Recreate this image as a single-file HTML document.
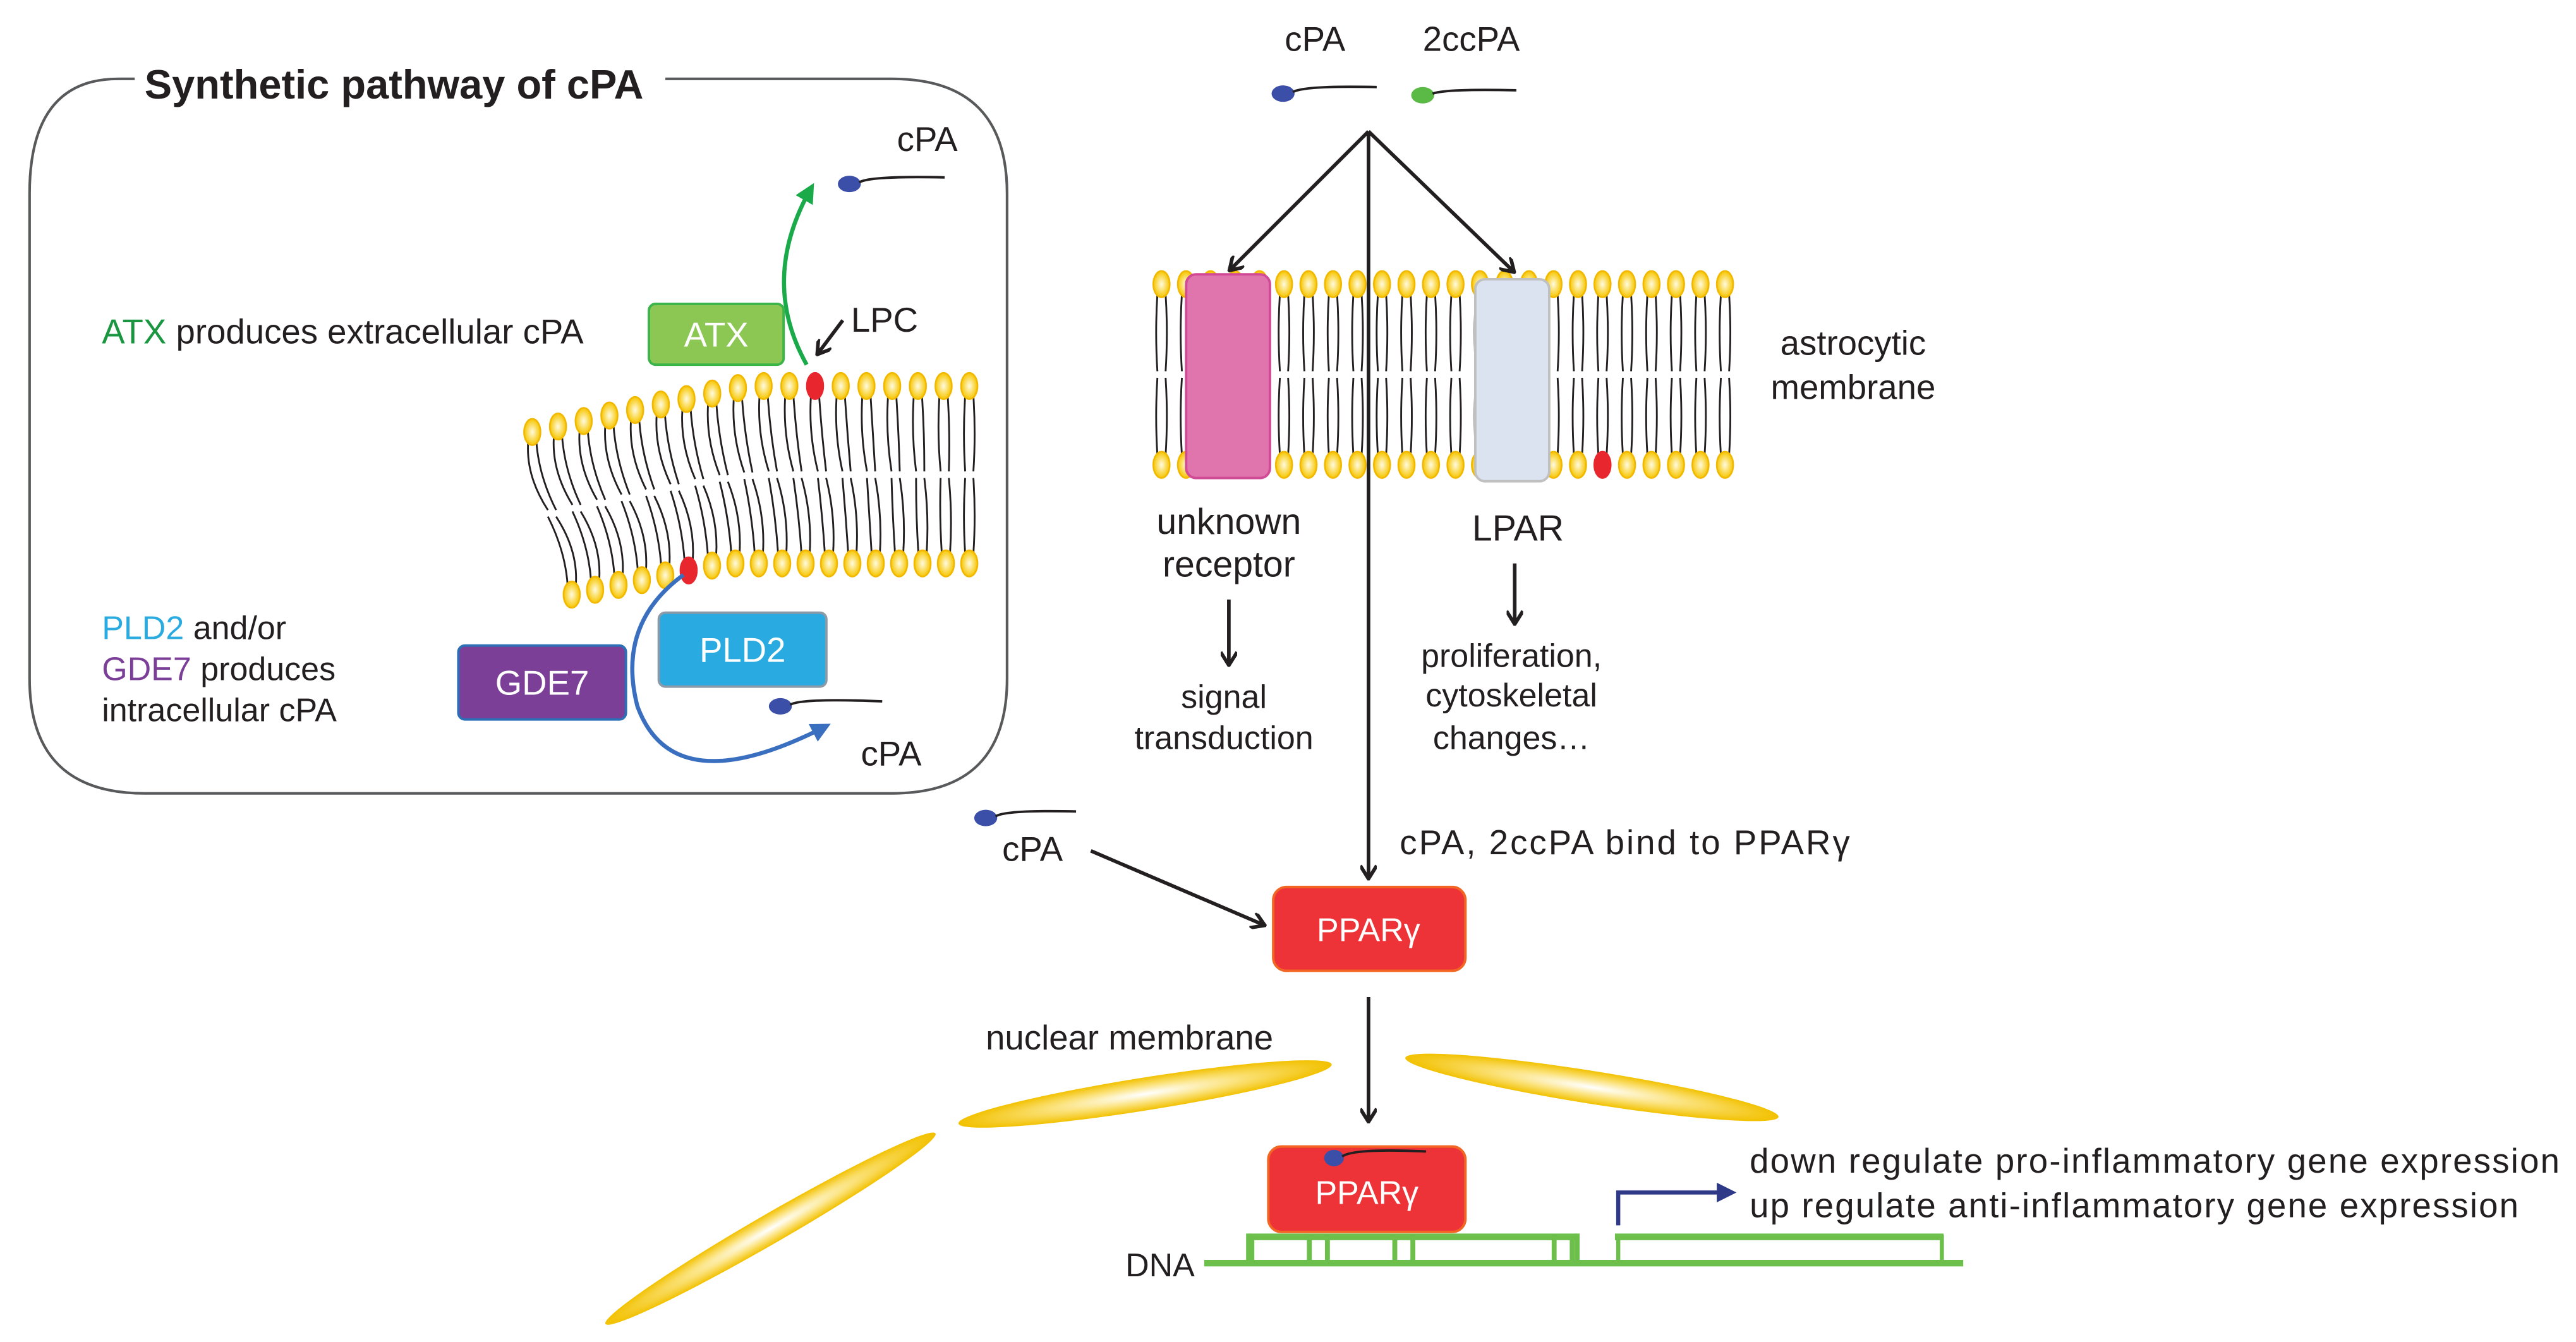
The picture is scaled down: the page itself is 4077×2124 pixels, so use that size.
<!DOCTYPE html>
<html><head><meta charset="utf-8"><style>
html,body{margin:0;padding:0;background:#fff;}
svg{display:block;}
text{font-family:"Liberation Sans",sans-serif;fill:#231f20;}
</style></head><body>
<svg id="s" width="4077" height="2124" viewBox="0 0 1568 817" preserveAspectRatio="none" xmlns="http://www.w3.org/2000/svg">
<defs>
<radialGradient id="hg" cx="50%" cy="50%" r="50%"><stop offset="0" stop-color="#fffbe0"/><stop offset="1" stop-color="#f7c600"/></radialGradient>
<radialGradient id="eg" cx="50%" cy="50%" r="50%"><stop offset="0" stop-color="#ffffff"/><stop offset="0.5" stop-color="#fbe27a"/><stop offset="1" stop-color="#f2c100"/></radialGradient>
<marker id="ak" markerWidth="10" markerHeight="10" refX="8" refY="5" orient="auto" markerUnits="userSpaceOnUse"><path d="M1,0 L9,5 L1,10" fill="none" stroke="#231f20" stroke-width="2.2"/></marker>
<marker id="ag" markerWidth="12" markerHeight="12" refX="9" refY="6" orient="auto" markerUnits="userSpaceOnUse"><path d="M0,0 L12,6 L0,12 z" fill="#1aaa4a"/></marker>
<marker id="ab" markerWidth="12" markerHeight="12" refX="9" refY="6" orient="auto" markerUnits="userSpaceOnUse"><path d="M0,0 L12,6 L0,12 z" fill="#3a6fc0"/></marker>
<marker id="an" markerWidth="12" markerHeight="12" refX="9" refY="6" orient="auto" markerUnits="userSpaceOnUse"><path d="M0,0 L12,6 L0,12 z" fill="#2e3a87"/></marker>
</defs>
<path d="M72,48 L82,48 M405,48 L543,48 Q613,48 613,118 L613,413 Q613,483 543,483 L88,483 Q18,483 18,413 L18,118 Q18,48 72,48" fill="none" stroke="#58595b" stroke-width="1.6"/>
<text x="88" y="60" font-size="25" font-weight="bold">Synthetic pathway of cPA</text>
<g id="mem1"></g>
<text x="546" y="92" font-size="21">cPA</text>
<ellipse cx="517" cy="112" rx="7" ry="5" fill="#3b4fa8"/><path d="M523,111 Q530,107 575,108" fill="none" stroke="#231f20" stroke-width="1.5"/>
<path d="M491,222 Q462,170 494,114" fill="none" stroke="#1aaa4a" stroke-width="2.5" marker-end="url(#ag)"/>
<rect x="395" y="185" width="82" height="37" rx="4" fill="#8cc653" stroke="#3bb44a" stroke-width="1.5"/>
<text x="436" y="211" font-size="21" text-anchor="middle" style="fill:#fff">ATX</text>
<path d="M513,195 L498,215" stroke="#231f20" stroke-width="2.2" marker-end="url(#ak)"/>
<text x="518" y="202" font-size="21">LPC</text>
<text x="62" y="209" font-size="21"><tspan style="fill:#1a9641">ATX</tspan> produces extracellular cPA</text>
<path d="M416,350 Q375,380 388,430 Q410,490 503,442" fill="none" stroke="#3a6fc0" stroke-width="2.5" marker-end="url(#ab)"/>
<rect x="401" y="373" width="102" height="45" rx="4" fill="#29abe2" stroke="#8a9aa8" stroke-width="1.5"/>
<text x="452" y="403" font-size="21" text-anchor="middle" style="fill:#fff">PLD2</text>
<rect x="279" y="393" width="102" height="45" rx="4" fill="#7b3f98" stroke="#2b6fb6" stroke-width="1.5"/>
<text x="330" y="423" font-size="21" text-anchor="middle" style="fill:#fff">GDE7</text>
<ellipse cx="475" cy="430" rx="7" ry="5" fill="#3b4fa8"/><path d="M481,429 Q488,425 537,427" fill="none" stroke="#231f20" stroke-width="1.5"/>
<text x="524" y="466" font-size="21">cPA</text>
<text x="62" y="389" font-size="20"><tspan style="fill:#29abe2">PLD2</tspan> and/or</text>
<text x="62" y="414" font-size="20"><tspan style="fill:#7b3f98">GDE7</tspan> produces</text>
<text x="62" y="439" font-size="20">intracellular cPA</text>
<text x="782" y="31" font-size="21">cPA</text>
<text x="866" y="31" font-size="21">2ccPA</text>
<ellipse cx="781" cy="57" rx="7" ry="5" fill="#3b4fa8"/><path d="M787,56 Q794,52 838,53" fill="none" stroke="#231f20" stroke-width="1.5"/>
<ellipse cx="866" cy="58" rx="7" ry="5" fill="#5bb946"/><path d="M872,57 Q880,54 923,55" fill="none" stroke="#231f20" stroke-width="1.5"/>
<g id="mem2"></g>
<path d="M833,80 L749,164" stroke="#231f20" stroke-width="2.2" marker-end="url(#ak)"/>
<path d="M833,80 L921,165" stroke="#231f20" stroke-width="2.2" marker-end="url(#ak)"/>
<rect x="722" y="167" width="51" height="124" rx="6" fill="#e075ae" stroke="#d04a95" stroke-width="1.5"/>
<rect x="898" y="170" width="45" height="123" rx="6" fill="#dae3ef" stroke="#c0c0c0" stroke-width="1.5"/>
<path d="M833,80 L833,534" stroke="#231f20" stroke-width="2.2" marker-end="url(#ak)"/>
<text x="1128" y="216" font-size="21" text-anchor="middle">astrocytic</text>
<text x="1128" y="243" font-size="21" text-anchor="middle">membrane</text>
<text x="748" y="325" font-size="22" text-anchor="middle">unknown</text>
<text x="748" y="351" font-size="22" text-anchor="middle">receptor</text>
<path d="M748,365 L748,404" stroke="#231f20" stroke-width="2.2" marker-end="url(#ak)"/>
<text x="745" y="431" font-size="20" text-anchor="middle">signal</text>
<text x="745" y="456" font-size="20" text-anchor="middle">transduction</text>
<text x="924" y="329" font-size="22" text-anchor="middle">LPAR</text>
<path d="M922,343 L922,379" stroke="#231f20" stroke-width="2.2" marker-end="url(#ak)"/>
<text x="920" y="406" font-size="20" text-anchor="middle">proliferation,</text>
<text x="920" y="430" font-size="20" text-anchor="middle">cytoskeletal</text>
<text x="920" y="456" font-size="20" text-anchor="middle">changes…</text>
<text x="852" y="520" font-size="21" textLength="274">cPA, 2ccPA bind to PPARγ</text>
<ellipse cx="600" cy="498" rx="7" ry="5" fill="#3b4fa8"/><path d="M606,497 Q612,493 655,494" fill="none" stroke="#231f20" stroke-width="1.5"/>
<text x="610" y="524" font-size="21">cPA</text>
<path d="M664,518 L769,563" stroke="#231f20" stroke-width="2.2" marker-end="url(#ak)"/>
<rect x="775" y="540" width="117" height="51" rx="8" fill="#ee3338" stroke="#f26522" stroke-width="1.5"/>
<text x="833" y="573" font-size="20" text-anchor="middle" style="fill:#fff">PPARγ</text>
<path d="M833,607 L833,682" stroke="#231f20" stroke-width="2.2" marker-end="url(#ak)"/>
<text x="600" y="639" font-size="21">nuclear membrane</text>
<ellipse cx="697" cy="666" rx="115" ry="10" fill="url(#eg)" transform="rotate(-9 697 666)"/>
<ellipse cx="969" cy="662" rx="115" ry="10" fill="url(#eg)" transform="rotate(9 969 662)"/>
<ellipse cx="469" cy="748" rx="116" ry="9" fill="url(#eg)" transform="rotate(-30 469 748)"/>
<g stroke="#6cbf4b" fill="none">
<path d="M733,769 L1195,769" stroke-width="4"/>
<path d="M760,753 L960,753" stroke-width="4"/>
<path d="M762,753 L762,769 M797,753 L797,769 M808,753 L808,769 M849,753 L849,769 M860,753 L860,769 M946,753 L946,769 M957,753 L957,769" stroke-width="3"/>
<path d="M760,751 L760,769 M960,751 L960,769" stroke-width="3"/>
<rect x="985" y="753" width="197" height="16" stroke-width="2.5"/>
<path d="M983,753 L1183,753" stroke-width="4"/>
</g>
<rect x="772" y="698" width="120" height="52" rx="8" fill="#ee3338" stroke="#f26522" stroke-width="1.5"/>
<ellipse cx="812" cy="705" rx="6" ry="5" fill="#3b4fa8"/><path d="M817,704 Q824,699 868,701" fill="none" stroke="#231f20" stroke-width="1.5"/>
<text x="832" y="733" font-size="20" text-anchor="middle" style="fill:#fff">PPARγ</text>
<text x="685" y="777" font-size="20">DNA</text>
<path d="M985,746 L985,726 L1054,726" fill="none" stroke="#2e3a87" stroke-width="2.5" marker-end="url(#an)"/>
<text x="1065" y="714" font-size="21" textLength="493">down regulate pro-inflammatory gene expression</text>
<text x="1065" y="741" font-size="21" textLength="468">up regulate anti-inflammatory gene expression</text>
</svg>
<script>
(function(){
var NS="http://www.w3.org/2000/svg";
function el(p,n,a){var e=document.createElementNS(NS,n);for(var k in a)e.setAttribute(k,a[k]);p.appendChild(e);return e;}
function tail(g,x1,y1,x2,y2){
  el(g,"path",{d:"M"+(x1-2.5)+","+y1+" Q"+(x1-4)+","+((y1+y2)/2)+" "+(x2-2.5)+","+y2+" M"+(x1+2.5)+","+y1+" Q"+(x1+4)+","+((y1+y2)/2)+" "+(x2+2.5)+","+y2,fill:"none",stroke:"#231f20","stroke-width":"1.1"});
}
function head(g,x,y,red){el(g,"ellipse",{cx:x,cy:y,rx:5,ry:8,fill:red?"#e8262d":"url(#hg)",stroke:red?"#e8262d":"#f2b800","stroke-width":"1"});}
var g1=document.getElementById("mem1");var N=18;
function P(i){var xt=324+i*(590-324)/(N-1);var yt=xt<455?263-(xt-324)*28/131:235;
  var xb=348+i*(590-348)/(N-1);var yb=xb<440?362-(xb-348)*19/92:343;return [xt,yt,xb,yb];}
for(var i=0;i<N;i++){var p=P(i);var xm=(p[0]+p[2])/2,ym=(p[1]+p[3])/2;
  tail(g1,p[0],p[1]+6,xm,ym-2);tail(g1,p[2],p[3]-6,xm,ym+2);}
for(var i=0;i<N;i++){var p=P(i);head(g1,p[0],p[1],Math.abs(p[0]-491)<8);head(g1,p[2],p[3],Math.abs(p[2]-421)<7);}
var g2=document.getElementById("mem2");var M=24;
for(var i=0;i<M;i++){var x=707+i*(1050-707)/(M-1);tail(g2,x,179,x,226);tail(g2,x,277,x,230);}
for(var i=0;i<M;i++){var x=707+i*(1050-707)/(M-1);head(g2,x,173,false);head(g2,x,283,Math.abs(x-981)<7);}
})();
</script>
</body></html>
